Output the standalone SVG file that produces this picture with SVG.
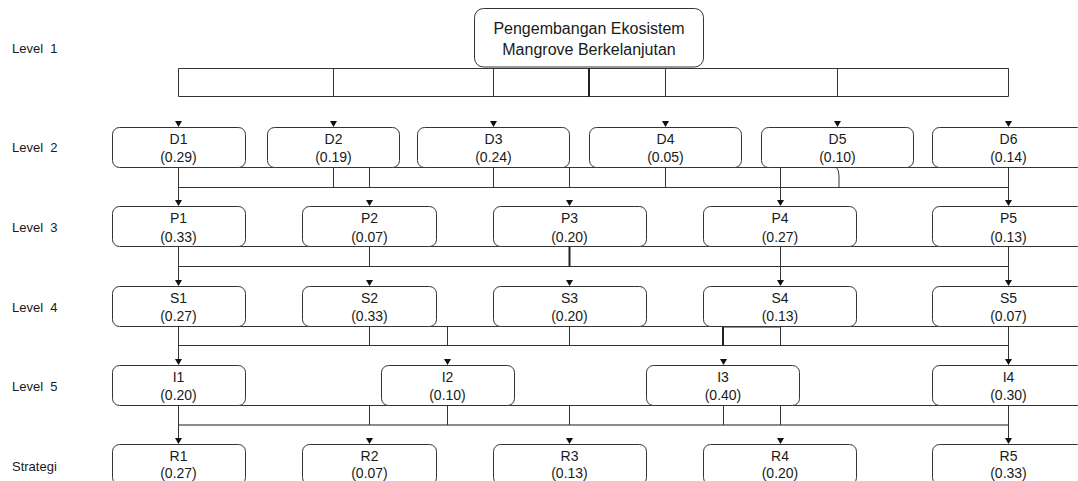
<svg xmlns="http://www.w3.org/2000/svg" width="1078" height="481" viewBox="0 0 1078 481">
<style>
text{font-family:"Liberation Sans",Arial,sans-serif;fill:#1a1a1a}
.lv{font-size:13px;white-space:pre}
.nt{font-size:14px;text-anchor:middle}
.tt{font-size:16px;text-anchor:middle}
.box{fill:#fff;stroke:#333;stroke-width:1}
.ln{fill:none;stroke:#333;stroke-width:1}
.thk{fill:none;stroke:#222;stroke-width:2}
.gry{fill:none;stroke:#666;stroke-width:1.6}
</style>
<defs>
<path id="ah" d="M-3.5,-6 L3.5,-6 L0,0 Z" fill="#111"/>
</defs>
<rect width="1078" height="481" fill="#fff"/>
<g id="labels">
<text class="lv" x="12" y="53" xml:space="preserve">Level  1</text>
<text class="lv" x="12" y="152" xml:space="preserve">Level  2</text>
<text class="lv" x="12" y="231.5" xml:space="preserve">Level  3</text>
<text class="lv" x="12" y="311.5" xml:space="preserve">Level  4</text>
<text class="lv" x="12" y="390.5" xml:space="preserve">Level  5</text>
<text class="lv" x="12" y="470.5">Strategi</text>
</g>
<g id="connectors">
<!-- level 1 bar -->
<path class="ln" d="M178.5,68.5 H1008.5 V96.5 H178.5 Z"/>
<path class="ln" d="M333.5,68.5 V96.5 M493.5,68.5 V96.5 M665.5,68.5 V96.5 M837.5,68.5 V96.5"/>
<path class="thk" d="M589,68 V97"/>
<!-- level 2 to 3 -->
<path class="ln" d="M178.5,167.5 H1078 M178.5,187.5 H1008.5"/>
<path class="ln" d="M178.5,167.5 V200 M333.5,167.5 V187.5 M369.5,167.5 V187.5 M493.5,167.5 V187.5 M569.5,167.5 V187.5 M665.5,167.5 V187.5 M780.5,167.5 V200 M1008.5,167.5 V200"/>
<path class="ln" d="M836.5,167.5 Q839,170 839,176 V187.5"/>
<!-- level 3 to 4 -->
<path class="ln" d="M178.5,246.5 H1078 M178.5,266.5 H1008.5"/>
<path class="ln" d="M178.5,246.5 V280 M369.5,246.5 V266.5 M780.5,246.5 V280 M1008.5,246.5 V280"/>
<path class="thk" d="M569.5,246.5 V266.5"/>
<!-- level 4 to 5 -->
<path class="ln" d="M178.5,326.5 H1078 M178.5,345.5 H1008.5"/>
<path class="ln" d="M178.5,326.5 V359 M369.5,326.5 V345.5 M447.5,326.5 V345.5 M569.5,326.5 V345.5 M780.5,326.5 V345.5 M1008.5,326.5 V359"/>
<path class="thk" d="M723,326.5 V345.5 M723,326.5 H780"/>
<!-- level 5 to strategi -->
<path class="ln" d="M178.5,405.5 H1078"/>
<path class="gry" d="M178.5,425 H1008.5"/>
<path class="ln" d="M178.5,405.5 V438 M369.5,405.5 V425 M447.5,405.5 V425 M569.5,405.5 V425 M723.5,405.5 V425 M780.5,405.5 V425 M1008.5,405.5 V438"/>
<!-- arrowheads -->
<use href="#ah" x="178.5" y="127"/><use href="#ah" x="333.5" y="127"/><use href="#ah" x="493.5" y="127"/>
<use href="#ah" x="665.5" y="127"/><use href="#ah" x="837.5" y="127"/><use href="#ah" x="1008.5" y="127"/>
<use href="#ah" x="178.5" y="206"/><use href="#ah" x="369.5" y="206"/><use href="#ah" x="569.5" y="206"/>
<use href="#ah" x="780.5" y="206"/><use href="#ah" x="1008.5" y="206"/>
<use href="#ah" x="178.5" y="286"/><use href="#ah" x="369.5" y="286"/><use href="#ah" x="569.5" y="286"/>
<use href="#ah" x="780.5" y="286"/><use href="#ah" x="1008.5" y="286"/>
<use href="#ah" x="178.5" y="365"/><use href="#ah" x="447.5" y="365"/><use href="#ah" x="723.5" y="365"/>
<use href="#ah" x="1008.5" y="365"/>
<use href="#ah" x="178.5" y="444"/><use href="#ah" x="369.5" y="444"/><use href="#ah" x="569.5" y="444"/>
<use href="#ah" x="780.5" y="444"/><use href="#ah" x="1008.5" y="444"/>
</g>
<g id="goal"><rect class="box" x="474.5" y="8.5" width="229" height="58.5" rx="9"/>
<text class="tt" x="589" y="33.5">Pengembangan Ekosistem</text><text class="tt" x="589" y="55">Mangrove Berkelanjutan</text></g>
<g id="D1"><rect class="box" x="112.5" y="127.5" width="133" height="40" rx="7"/><text class="nt" x="178.5" y="143.5">D1</text><text class="nt" x="178.5" y="162">(0.29)</text></g>
<g id="D2"><rect class="box" x="267.5" y="127.5" width="132" height="40" rx="7"/><text class="nt" x="333.5" y="143.5">D2</text><text class="nt" x="333.5" y="162">(0.19)</text></g>
<g id="D3"><rect class="box" x="417.5" y="127.5" width="152" height="40" rx="7"/><text class="nt" x="493.5" y="143.5">D3</text><text class="nt" x="493.5" y="162">(0.24)</text></g>
<g id="D4"><rect class="box" x="589.5" y="127.5" width="152" height="40" rx="7"/><text class="nt" x="665.5" y="143.5">D4</text><text class="nt" x="665.5" y="162">(0.05)</text></g>
<g id="D5"><rect class="box" x="761.5" y="127.5" width="152" height="40" rx="7"/><text class="nt" x="837.5" y="143.5">D5</text><text class="nt" x="837.5" y="162">(0.10)</text></g>
<g id="D6"><rect class="box" x="932.5" y="127.5" width="152" height="40" rx="7"/><text class="nt" x="1008.5" y="143.5">D6</text><text class="nt" x="1008.5" y="162">(0.14)</text></g>
<g id="P1"><rect class="box" x="112.5" y="206.5" width="133" height="40" rx="7"/><text class="nt" x="178.5" y="223">P1</text><text class="nt" x="178.5" y="241.5">(0.33)</text></g>
<g id="P2"><rect class="box" x="302.5" y="206.5" width="134" height="40" rx="7"/><text class="nt" x="369.5" y="223">P2</text><text class="nt" x="369.5" y="241.5">(0.07)</text></g>
<g id="P3"><rect class="box" x="493.5" y="206.5" width="153" height="40" rx="7"/><text class="nt" x="569.5" y="223">P3</text><text class="nt" x="569.5" y="241.5">(0.20)</text></g>
<g id="P4"><rect class="box" x="703.5" y="206.5" width="153" height="40" rx="7"/><text class="nt" x="780" y="223">P4</text><text class="nt" x="780" y="241.5">(0.27)</text></g>
<g id="P5"><rect class="box" x="932.5" y="206.5" width="152" height="40" rx="7"/><text class="nt" x="1008.5" y="223">P5</text><text class="nt" x="1008.5" y="241.5">(0.13)</text></g>
<g id="S1"><rect class="box" x="112.5" y="286.5" width="133" height="40" rx="7"/><text class="nt" x="178.5" y="302.5">S1</text><text class="nt" x="178.5" y="321">(0.27)</text></g>
<g id="S2"><rect class="box" x="302.5" y="286.5" width="134" height="40" rx="7"/><text class="nt" x="369.5" y="302.5">S2</text><text class="nt" x="369.5" y="321">(0.33)</text></g>
<g id="S3"><rect class="box" x="493.5" y="286.5" width="153" height="40" rx="7"/><text class="nt" x="569.5" y="302.5">S3</text><text class="nt" x="569.5" y="321">(0.20)</text></g>
<g id="S4"><rect class="box" x="703.5" y="286.5" width="153" height="40" rx="7"/><text class="nt" x="780" y="302.5">S4</text><text class="nt" x="780" y="321">(0.13)</text></g>
<g id="S5"><rect class="box" x="932.5" y="286.5" width="152" height="40" rx="7"/><text class="nt" x="1008.5" y="302.5">S5</text><text class="nt" x="1008.5" y="321">(0.07)</text></g>
<g id="I1"><rect class="box" x="112.5" y="365.5" width="133" height="40" rx="7"/><text class="nt" x="178.5" y="381.5">I1</text><text class="nt" x="178.5" y="400">(0.20)</text></g>
<g id="I2"><rect class="box" x="381.5" y="365.5" width="133" height="40" rx="7"/><text class="nt" x="447.5" y="381.5">I2</text><text class="nt" x="447.5" y="400">(0.10)</text></g>
<g id="I3"><rect class="box" x="646.5" y="365.5" width="153" height="40" rx="7"/><text class="nt" x="723" y="381.5">I3</text><text class="nt" x="723" y="400">(0.40)</text></g>
<g id="I4"><rect class="box" x="932.5" y="365.5" width="152" height="40" rx="7"/><text class="nt" x="1008.5" y="381.5">I4</text><text class="nt" x="1008.5" y="400">(0.30)</text></g>
<g id="R1"><rect class="box" x="112.5" y="444.5" width="133" height="40" rx="7"/><text class="nt" x="178.5" y="460.5">R1</text><text class="nt" x="178.5" y="478">(0.27)</text></g>
<g id="R2"><rect class="box" x="302.5" y="444.5" width="134" height="40" rx="7"/><text class="nt" x="369.5" y="460.5">R2</text><text class="nt" x="369.5" y="478">(0.07)</text></g>
<g id="R3"><rect class="box" x="493.5" y="444.5" width="153" height="40" rx="7"/><text class="nt" x="569.5" y="460.5">R3</text><text class="nt" x="569.5" y="478">(0.13)</text></g>
<g id="R4"><rect class="box" x="703.5" y="444.5" width="153" height="40" rx="7"/><text class="nt" x="780" y="460.5">R4</text><text class="nt" x="780" y="478">(0.20)</text></g>
<g id="R5"><rect class="box" x="932.5" y="444.5" width="152" height="40" rx="7"/><text class="nt" x="1008.5" y="460.5">R5</text><text class="nt" x="1008.5" y="478">(0.33)</text></g>
</svg>
